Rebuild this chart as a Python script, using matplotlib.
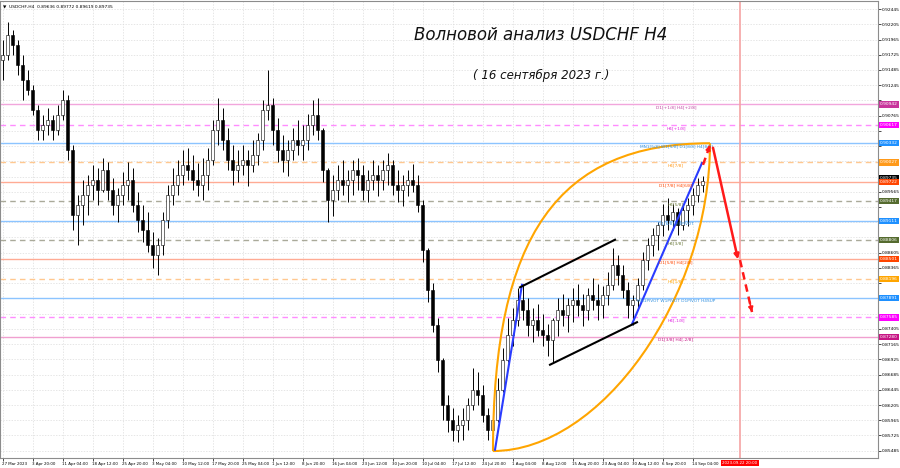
import matplotlib
matplotlib.use('Agg')
import matplotlib.pyplot as plt
import matplotlib.transforms as mtransforms
from matplotlib.path import Path
from matplotlib.patches import PathPatch
import numpy as np

plt.rcParams['font.family'] = ['DejaVu Sans']

# USDCHF H4, candles (one candle ~ every 5 px column)
first_open = 0.9164
highs = [0.9196, 0.9224, 0.9212, 0.9196, 0.9172, 0.9148, 0.9125, 0.9093, 0.9078, 0.9089,
         0.9078, 0.9093, 0.9117, 0.9109, 0.9030, 0.8952, 0.8975, 0.8983, 0.8999, 0.8994,
         0.9010, 0.9003, 0.8978, 0.8963, 0.8988, 0.9003, 0.8994, 0.8956, 0.8936, 0.8925,
         0.8893, 0.8884, 0.8925, 0.8967, 0.8994, 0.9007, 0.9022, 0.9026, 0.9015, 0.9002,
         0.9010, 0.9026, 0.9070, 0.9104, 0.9089, 0.9057, 0.9030, 0.9022, 0.9030, 0.9022,
         0.9038, 0.9049, 0.9101, 0.9148, 0.9104, 0.9073, 0.9046, 0.9038, 0.9057, 0.9070,
         0.9062, 0.9079, 0.9101, 0.9104, 0.9057, 0.8994, 0.8983, 0.8999, 0.9007, 0.8991,
         0.9007, 0.9010, 0.8999, 0.8991, 0.9007, 0.8999, 0.9007, 0.9018, 0.9007, 0.8991,
         0.8983, 0.8991, 0.9000, 0.8983, 0.8944, 0.8868, 0.8813, 0.8758, 0.8695, 0.8636,
         0.8616, 0.8605, 0.8616, 0.8632, 0.8679, 0.8672, 0.8652, 0.8616, 0.8600, 0.8663,
         0.8710, 0.8758, 0.8773, 0.8805, 0.8811, 0.8789, 0.8773, 0.8780, 0.8764, 0.8748,
         0.8758, 0.8789, 0.8795, 0.8789, 0.8805, 0.8811, 0.8795, 0.8805, 0.8821, 0.8811,
         0.8808, 0.8830, 0.8868, 0.8857, 0.8841, 0.8814, 0.8794, 0.8821, 0.8862, 0.8884,
         0.8899, 0.8909, 0.8937, 0.8947, 0.8937, 0.8931, 0.8937, 0.8947, 0.8963, 0.8978,
         0.8981]
lows = [0.9133, 0.9164, 0.9172, 0.9141, 0.9101, 0.9109, 0.9078, 0.9038, 0.9038, 0.9046,
        0.9038, 0.9046, 0.9070, 0.9007, 0.8896, 0.8873, 0.8904, 0.8920, 0.8944, 0.8936,
        0.8956, 0.8944, 0.8920, 0.8909, 0.8936, 0.8944, 0.8925, 0.8893, 0.8877, 0.8862,
        0.8836, 0.8825, 0.8857, 0.8899, 0.8936, 0.8952, 0.8967, 0.8975, 0.8959, 0.8950,
        0.8944, 0.8959, 0.8999, 0.9030, 0.9022, 0.8991, 0.8967, 0.8972, 0.8983, 0.8966,
        0.8988, 0.8999, 0.9022, 0.9070, 0.9030, 0.9003, 0.8988, 0.8981, 0.9007, 0.9015,
        0.9007, 0.9022, 0.9046, 0.9038, 0.8972, 0.8909, 0.8918, 0.8944, 0.8952, 0.8940,
        0.8952, 0.8959, 0.8944, 0.8940, 0.8959, 0.8950, 0.8959, 0.8967, 0.8952, 0.8940,
        0.8934, 0.8950, 0.8956, 0.8925, 0.8846, 0.8783, 0.8736, 0.8672, 0.8597, 0.8578,
        0.8564, 0.8562, 0.8565, 0.8581, 0.8613, 0.8621, 0.8594, 0.8565, 0.8554, 0.8594,
        0.8641, 0.8688, 0.8714, 0.8745, 0.8754, 0.8729, 0.8720, 0.8729, 0.8714, 0.8698,
        0.8688, 0.8729, 0.8745, 0.8736, 0.8751, 0.8761, 0.8745, 0.8754, 0.8770, 0.8754,
        0.8758, 0.8778, 0.8802, 0.8810, 0.8789, 0.8758, 0.8747, 0.8770, 0.8802, 0.8833,
        0.8855, 0.8865, 0.8887, 0.8896, 0.8896, 0.8888, 0.8896, 0.8903, 0.8920, 0.8940,
        0.8956]
closes = [0.9172, 0.9204, 0.9188, 0.9156, 0.9133, 0.9117, 0.9085, 0.9054, 0.9062, 0.9070,
          0.9054, 0.9078, 0.9101, 0.9022, 0.8920, 0.8936, 0.8952, 0.8967, 0.8975, 0.8959,
          0.8991, 0.8959, 0.8936, 0.8952, 0.8967, 0.8975, 0.8936, 0.8912, 0.8896, 0.8873,
          0.8857, 0.8873, 0.8912, 0.8952, 0.8967, 0.8983, 0.8999, 0.8991, 0.8975, 0.8967,
          0.8983, 0.9007, 0.9054, 0.9070, 0.9038, 0.9007, 0.8991, 0.8999, 0.9007, 0.8999,
          0.9015, 0.9038, 0.9085, 0.9093, 0.9054, 0.9022, 0.9007, 0.9022, 0.9038, 0.9030,
          0.9038, 0.9062, 0.9078, 0.9054, 0.8991, 0.8944, 0.8959, 0.8975, 0.8967, 0.8975,
          0.8991, 0.8983, 0.8959, 0.8975, 0.8983, 0.8975, 0.8991, 0.8999, 0.8967, 0.8959,
          0.8967, 0.8975, 0.8967, 0.8936, 0.8865, 0.8802, 0.8747, 0.8691, 0.8621, 0.8597,
          0.8581, 0.8589, 0.8597, 0.8621, 0.8644, 0.8636, 0.8605, 0.8581, 0.8597, 0.8644,
          0.8691, 0.8731, 0.8754, 0.8786, 0.8770, 0.8747, 0.8754, 0.8739, 0.8731, 0.8723,
          0.8754, 0.8770, 0.8762, 0.8778, 0.8786, 0.8778, 0.8770, 0.8794, 0.8786, 0.8778,
          0.8794, 0.8810, 0.8841, 0.8825, 0.8802, 0.8778, 0.8786, 0.8810, 0.8849, 0.8873,
          0.8888, 0.8904, 0.8920, 0.8912, 0.8925, 0.8904, 0.8928, 0.8936, 0.8952, 0.8967,
          0.89735]

date_ticks = [0, 6, 12, 18, 24, 30, 36, 42, 48, 54, 60, 66, 72, 78, 84, 90, 96, 102,
              108, 114, 120, 126, 132, 138]
date_labels = ['27 Mar 2023', '3 Apr 20:00', '11 Apr 04:00', '18 Apr 12:00', '25 Apr 20:00',
               '3 May 04:00', '10 May 12:00', '17 May 20:00', '25 May 04:00', '1 Jun 12:00',
               '8 Jun 20:00', '16 Jun 04:00', '23 Jun 12:00', '30 Jun 20:00', '10 Jul 04:00',
               '17 Jul 12:00', '24 Jul 20:00', '1 Aug 04:00', '8 Aug 12:00', '15 Aug 20:00',
               '23 Aug 04:00', '30 Aug 12:00', '6 Sep 20:00', '14 Sep 04:00']
price_ticks = [0.85485, 0.85725, 0.85965, 0.86205, 0.86445, 0.86685, 0.86925, 0.87165,
               0.87405, 0.87645, 0.87885, 0.88125, 0.88365, 0.88605, 0.88845, 0.89085,
               0.89325, 0.89565, 0.89805, 0.90045, 0.90285, 0.90525, 0.90765, 0.91005,
               0.91245, 0.91485, 0.91725, 0.91965, 0.92205, 0.92445]

# murrey levels
levels = [0.90942, 0.90617, 0.90332, 0.90027, 0.89722, 0.89417, 0.89111,
          0.88806, 0.88501, 0.88196, 0.87891, 0.87585, 0.87280]
level_names = ['D1[+1/8] H4[+2/8]', 'H4[+1/8]', 'MN1[5/8] W1[5/8] D1[8/8] H4[8/8]',
               'H4[7/8]', 'D1[7/8] H4[6/8]', 'H4[5/8]', 'D1[6/8] H4PIVOT', 'H4[3/8]',
               'D1[5/8] H4[2/8]', 'H4[1/8]', 'MN1PIVOT W1PIVOT D1PIVOT H4SUP',
               'H4[-1/8]', 'D1[3/8] H4[-2/8]']
last_price = 0.89735
future_bar = 147.5
future_label = '2023.09.22 20:00'

# drawn objects (bar index, price)
blue1 = [(98.5, 0.8550), (103.9, 0.8810)]
blue2 = [(125.9, 0.8748), (139.9, 0.9002)]
chan_top = [(103.5, 0.8806), (122.5, 0.8881)]
chan_bot = [(109.5, 0.8684), (126.9, 0.8751)]
red_up = [(140.1, 0.8999), (141.5, 0.9030)]
red_down = [(142.1, 0.9026), (147.1, 0.8850)]
red_down2 = [(147.5, 0.8849), (149.9, 0.8767)]
lens = [(98.1, 0.8548), (141.5, 0.9033)]

box_cols = ['#c8359b', '#ff00ff', '#1e90ff', '#ff9a1a', '#ff4500', '#556b2f', '#1e90ff',
            '#556b2f', '#ff4500', '#ffa500', '#1e90ff', '#ff00ff', '#c71585']
line_cols = ['#f2a6dc', '#ff8cff', '#8cc4ff', '#ffc890', '#ffab94', '#aaaa9a', '#8cc4ff',
             '#aaaa9a', '#ffab94', '#ffc890', '#8cc4ff', '#ff8cff', '#f0a0d0']
txt_cols = ['#c040a0', '#e020e0', '#3090e0', '#ff9a1a', '#ff4500', '#6b7a3a', '#3090e0',
            '#6b7a3a', '#ff4500', '#ffa500', '#3090e0', '#e020e0', '#c71585']
dashed = [False, True, False, True, False, True, False, True, False, True, False, True, False]

fig = plt.figure(figsize=(9, 4.68), dpi=100)
ax = fig.add_axes([0.0, 10 / 468, 878 / 900, 457 / 468])
ax.set_xlim(-0.5, 175.1)
ax.set_ylim(0.85370, 0.92572)

# axes, ticks, grid
ax.set_xticks(date_ticks)
ax.set_xticklabels(date_labels, fontsize=2.9, ha='left')
ax.yaxis.tick_right()
ax.set_yticks(price_ticks)
# tick labels that sit under a level box are not visible in the terminal
tick_txt = []
for p in price_ticks:
    covered = any(abs(p - lv) < 0.001 for lv in levels + [last_price])
    tick_txt.append('' if covered else f'{p:.5f}')
ax.set_yticklabels(tick_txt, fontsize=3.2)
ax.tick_params(axis='both', length=2, width=0.5, pad=1, colors='black')
ax.grid(True, color='#dcdcdc', linestyle=(0, (2, 2)), linewidth=0.5)
ax.set_axisbelow(True)
for s in ax.spines.values():
    s.set_color('#8c8c8c')
    s.set_linewidth(0.8)

# levels
trans = mtransforms.blended_transform_factory(ax.transAxes, ax.transData)
for lv, nm, lc, tc, d in zip(levels, level_names, line_cols, txt_cols, dashed):
    ax.axhline(lv, color=lc, lw=1.0, linestyle=(0, (4, 3)) if d else '-', zorder=1)
    ax.annotate(nm, (134.7, lv), xytext=(0, -2.2), textcoords='offset points',
                fontsize=3.1, color=tc, ha='center', va='center', zorder=6)

# future vertical line
ax.axvline(future_bar, color='#f5a3a3', lw=1.2, zorder=1)

# candles
x = np.arange(len(closes))
opens = [first_open] + closes[:-1]
ax.vlines(x, lows, highs, color='black', lw=0.7, zorder=3)
bottoms = [min(o, c) for o, c in zip(opens, closes)]
heights = [max(abs(c - o), 0.00004) for o, c in zip(opens, closes)]
fcs = ['white' if c >= o else 'black' for o, c in zip(opens, closes)]
ax.bar(x, heights, bottom=bottoms, width=0.65, color=fcs, edgecolor='black',
       linewidth=0.4, zorder=4)

# lens (two curved arcs)
(x1, y1), (x2, y2) = lens
k1, k2 = 0.7, 0.5
c1 = (x1, y2)
c2 = (x2, y1)
left = [(x1, y1), (x1 + k1 * (c1[0] - x1), y1 + k1 * (c1[1] - y1)),
        (x2 + k1 * (c1[0] - x2), y2 + k1 * (c1[1] - y2)), (x2, y2)]
right = [(x2, y2), (x2 + k2 * (c2[0] - x2), y2 + k2 * (c2[1] - y2)),
         (x1 + k2 * (c2[0] - x1), y1 + k2 * (c2[1] - y1)), (x1, y1)]
for verts in (left, right):
    p = Path(verts, [Path.MOVETO, Path.CURVE4, Path.CURVE4, Path.CURVE4])
    ax.add_patch(PathPatch(p, fc='none', ec='#ffa500', lw=1.5, zorder=5))

# trend lines
for seg, col in ((blue1, '#2a3cff'), (blue2, '#2a3cff'), (chan_top, 'black'), (chan_bot, 'black')):
    ax.plot([seg[0][0], seg[1][0]], [seg[0][1], seg[1][1]], color=col, lw=1.5, zorder=5)

# red arrows
def arrow(seg, ls):
    (a, b), (c, d) = seg
    if ls == '-':
        ax.annotate('', xy=(c, d), xytext=(a, b),
                    arrowprops=dict(arrowstyle='-|>', color='#ff1a1a', lw=1.8,
                                    mutation_scale=7, shrinkA=0, shrinkB=0), zorder=6)
    else:
        ax.plot([a, c], [b, d], color='#ff1a1a', lw=1.8, linestyle=(0, (3, 2)), zorder=6)
        ax.annotate('', xy=(c, d), xytext=(a + 0.8 * (c - a), b + 0.8 * (d - b)),
                    arrowprops=dict(arrowstyle='-|>', color='#ff1a1a', lw=1.2,
                                    mutation_scale=7, shrinkA=0, shrinkB=0), zorder=6)

arrow(red_up, '--')
arrow(red_down, '-')
arrow(red_down2, '--')

# price boxes on the right axis
ax.annotate(f'{last_price:.5f}', (1.0, last_price), xycoords=trans, xytext=(1.5, 2.0),
            textcoords='offset points', fontsize=3.2, color='white', ha='left', va='center',
            bbox=dict(boxstyle='square,pad=0.25', fc='black', ec='none'),
            annotation_clip=False, zorder=9)
for lv, bc in zip(levels, box_cols):
    ax.annotate(f'{lv:.5f}', (1.0, lv), xycoords=trans, xytext=(1.5, 0),
                textcoords='offset points', fontsize=3.2, color='white', ha='left', va='center',
                bbox=dict(boxstyle='square,pad=0.25', fc=bc, ec='none'),
                annotation_clip=False, zorder=10)

# future date box
tx = mtransforms.blended_transform_factory(ax.transData, ax.transAxes)
ax.text(future_bar, -0.011, future_label, transform=tx, fontsize=2.9, color='white',
        ha='center', va='center', bbox=dict(boxstyle='square,pad=0.3', fc='#ff0000', ec='none'),
        clip_on=False, zorder=10)

# header and titles
ax.text(0.003, 0.993, '\u25bc  USDCHF,H4  0.89636 0.89772 0.89619 0.89735',
        transform=ax.transAxes, fontsize=3.2, va='top', ha='left')
ax.text(0.616, 0.926, 'Волновой анализ USDCHF H4', transform=ax.transAxes,
        fontsize=12, style='italic', ha='center', va='center', color='#111111')
ax.text(0.616, 0.838, '( 16 сентября 2023 г.)', transform=ax.transAxes,
        fontsize=8.5, style='italic', ha='center', va='center', color='#111111')

fig.savefig('out.png', dpi=100)
